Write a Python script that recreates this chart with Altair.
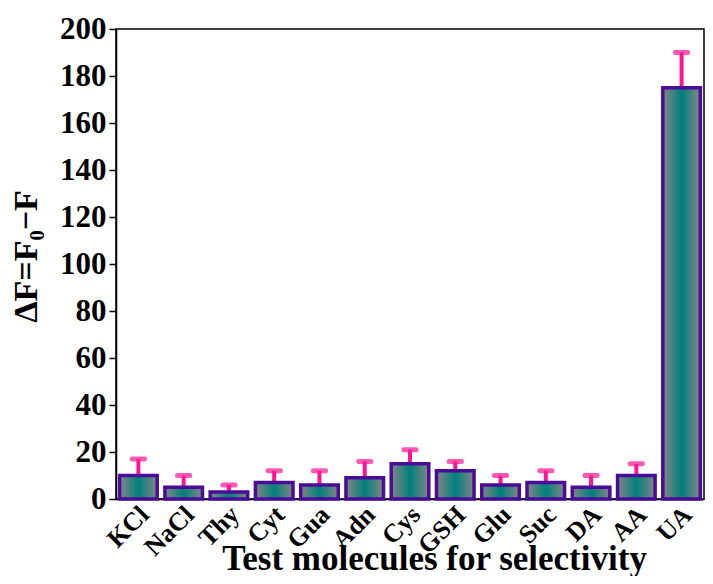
import altair as alt
import pandas as pd

categories = ["KCl", "NaCl", "Thy", "Cyt", "Gua", "Adn", "Cys", "GSH", "Glu", "Suc", "DA", "AA", "UA"]
values = [10, 5, 3, 7, 6, 9, 15, 12, 6, 7, 5, 10, 175]
errors = [7, 5, 3, 5, 6, 7, 6, 4, 4, 5, 5, 5, 15]

df = pd.DataFrame({"cat": categories, "val": values, "err": errors})
df["upper"] = df["val"] + df["err"]

FONT = "Liberation Serif"

x = alt.X("cat:N", sort=categories, scale=alt.Scale(paddingInner=0.17, paddingOuter=0.08),
          axis=alt.Axis(title="Test molecules for selectivity", labelAngle=-45, labelAlign="right",
                        labelBaseline="top", labelFontSize=26, labelFont=FONT, labelFontWeight="bold",
                        labelColor="black", titleFont=FONT, titleFontSize=35, titleFontWeight="bold",
                        titleColor="black", ticks=False, domainColor="black", domainWidth=1.5,
                        labelPadding=2, labelOffset=-3, titleX=318, titleY=70, titleAlign="center",
                        titleBaseline="alphabetic"))
y = alt.Y("val:Q", scale=alt.Scale(domain=[0, 200]),
          axis=alt.Axis(title="ΔF=F₀−F", values=list(range(0, 201, 20)), grid=False,
                        labelFontSize=31, labelFont=FONT, labelFontWeight="bold", labelColor="black",
                        titleFont=FONT, titleFontSize=34, titleFontWeight="bold", titleColor="black",
                        tickColor="black", tickSize=7, tickWidth=1.5, domainColor="black",
                        domainWidth=1.5, labelPadding=3, titleX=-90, titleY=227,
                        titleAlign="center", titleBaseline="middle"))

grad = alt.Gradient(gradient="linear",
                    stops=[alt.GradientStop(color="#858585", offset=0),
                           alt.GradientStop(color="#00807c", offset=0.5),
                           alt.GradientStop(color="#858585", offset=1)],
                    x1=0, x2=1, y1=0, y2=0)

base = alt.Chart(df)
err_rule = base.mark_rule(color="#FF1493", strokeWidth=4).encode(x=x, y=y, y2="upper:Q")
cap = base.mark_tick(color="#FF1493", thickness=5, size=17, cornerRadius=2).encode(x=x, y=alt.Y("upper:Q"))
bars = base.mark_bar(color=grad, stroke="#4A0C98", strokeWidth=3.5).encode(x=x, y=y)

chart = alt.layer(err_rule, cap, bars).properties(
    width=588, height=470,
    autosize=alt.AutoSizeParams(type="none"),
    padding={"left": 108, "top": 21, "right": 1, "bottom": 77},
).configure_view(stroke="black", strokeWidth=1.5)

chart.save("out.html", embed_options={"renderer": "svg", "actions": False})
